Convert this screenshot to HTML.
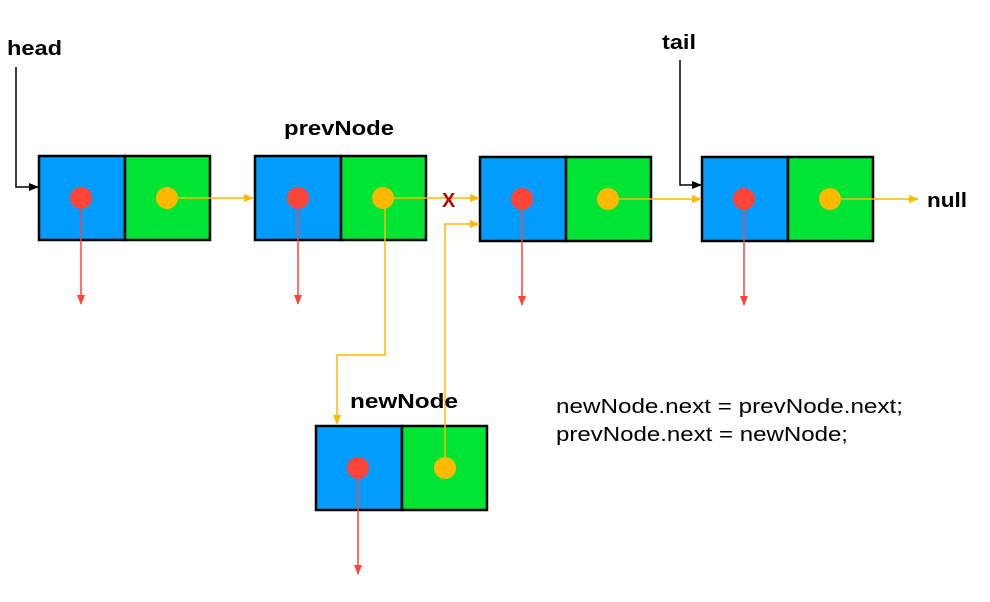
<!DOCTYPE html>
<html><head><style>body{margin:0;background:#fff}</style></head><body>
<svg width="990" height="597" xmlns="http://www.w3.org/2000/svg" font-family="Liberation Sans, sans-serif">
<defs>
<marker id="k" markerWidth="10" markerHeight="10" refX="9" refY="5" orient="auto" markerUnits="userSpaceOnUse"><path d="M0,1 L10,5 L0,9z" fill="#000"/></marker>
<marker id="y" markerWidth="10" markerHeight="10" refX="9" refY="5" orient="auto" markerUnits="userSpaceOnUse"><path d="M0,1 L10,5 L0,9z" fill="#FFB900"/></marker>
<marker id="r" markerWidth="10" markerHeight="10" refX="9" refY="5" orient="auto" markerUnits="userSpaceOnUse"><path d="M0,1 L10,5 L0,9z" fill="#FF4438"/></marker>
</defs>
<g stroke="#000" stroke-width="2.5">
<rect x="39" y="156" width="86" height="84" fill="#009DFF"/><rect x="125" y="156" width="85" height="84" fill="#00E533"/>
<rect x="255" y="156" width="86" height="84" fill="#009DFF"/><rect x="341" y="156" width="85" height="84" fill="#00E533"/>
<rect x="480" y="157" width="86" height="84" fill="#009DFF"/><rect x="566" y="157" width="85" height="84" fill="#00E533"/>
<rect x="702" y="157" width="86" height="84" fill="#009DFF"/><rect x="788" y="157" width="85" height="84" fill="#00E533"/>
<rect x="316" y="426" width="86" height="84" fill="#009DFF"/><rect x="402" y="426" width="85" height="84" fill="#00E533"/>
</g>
<g fill="none" stroke-width="1.5">
<path d="M16,67 V187 H38" stroke="#000" marker-end="url(#k)"/>
<path d="M680,60 V185 H701" stroke="#000" marker-end="url(#k)"/>
<g stroke="#FFB900">
<path d="M167,198 H253" marker-end="url(#y)"/>
<path d="M383,198 H479" marker-end="url(#y)"/>
<path d="M608,199 H701" marker-end="url(#y)"/>
<path d="M830,199 H918" marker-end="url(#y)"/>
<path d="M385,198 V355 H337 V424" marker-end="url(#y)"/>
<path d="M445,468 V224 H479" marker-end="url(#y)"/>
</g>
<g stroke="#FF4438">
<path d="M81,198 V304" marker-end="url(#r)"/>
<path d="M298,198 V304" marker-end="url(#r)"/>
<path d="M522,199 V305" marker-end="url(#r)"/>
<path d="M744,199 V305" marker-end="url(#r)"/>
<path d="M358,468 V574" marker-end="url(#r)"/>
</g>
</g>
<g fill="#FF4438"><circle cx="81" cy="198" r="11"/><circle cx="298" cy="198" r="11"/><circle cx="522" cy="199" r="11"/><circle cx="744" cy="199" r="11"/><circle cx="358" cy="468" r="11"/></g>
<g fill="#FFB900"><circle cx="167" cy="198" r="11"/><circle cx="383" cy="198" r="11"/><circle cx="608" cy="199" r="11"/><circle cx="830" cy="199" r="11"/><circle cx="445" cy="468" r="11"/></g>
<g font-weight="bold" font-size="20" fill="#000" lengthAdjust="spacingAndGlyphs">
<text x="7" y="55" textLength="55" lengthAdjust="spacingAndGlyphs">head</text>
<text x="284" y="135" textLength="110" lengthAdjust="spacingAndGlyphs">prevNode</text>
<text x="662" y="49" textLength="34" lengthAdjust="spacingAndGlyphs">tail</text>
<text x="927" y="207" textLength="40" lengthAdjust="spacingAndGlyphs">null</text>
<text x="350" y="408" textLength="108" lengthAdjust="spacingAndGlyphs">newNode</text>
<text x="442" y="207" fill="#C00000">X</text>
</g>
<g font-size="20" fill="#000">
<text x="556" y="413" textLength="347" lengthAdjust="spacingAndGlyphs">newNode.next = prevNode.next;</text>
<text x="556" y="441" textLength="292" lengthAdjust="spacingAndGlyphs">prevNode.next = newNode;</text>
</g>
</svg>
</body></html>
